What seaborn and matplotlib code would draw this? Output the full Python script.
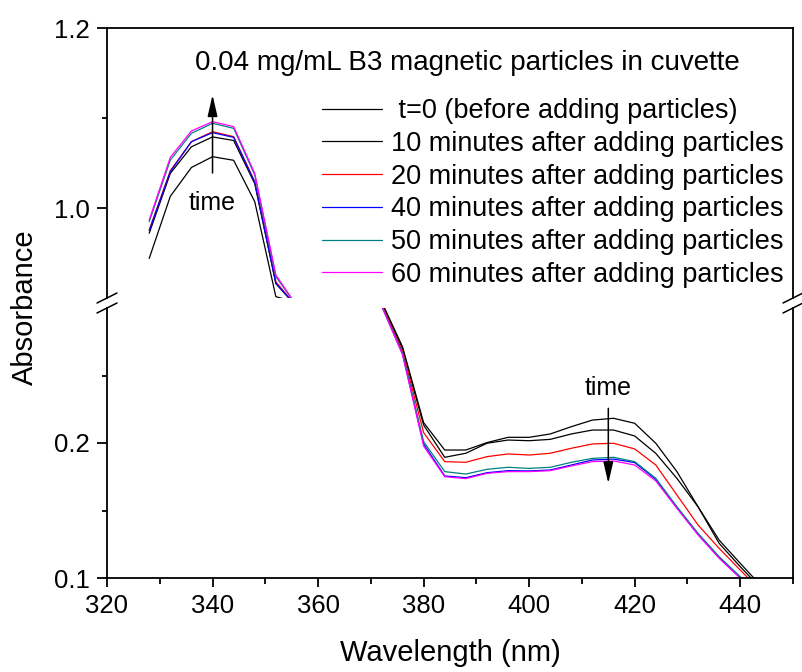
import numpy as np
import pandas as pd
import matplotlib
matplotlib.use("Agg")
import matplotlib.pyplot as plt
import matplotlib.ticker as mticker
from matplotlib.lines import Line2D
import seaborn as sns

# ---------------- data ----------------
wavelength = [328, 332, 336, 340, 344, 348, 352, 356, 360, 364, 368, 372, 376, 380,
              384, 388, 392, 396, 400, 404, 408, 412, 416, 420, 424, 428, 432, 436,
              440, 444]

abs_t0 = [0.944, 1.013, 1.045, 1.057, 1.053, 1.007, 0.9015, 0.895, 0.78, 0.62, 0.45,
          0.305, 0.2713, 0.2151, 0.1948, 0.1948, 0.2003, 0.2042, 0.2042, 0.2067,
          0.2121, 0.2170, 0.2183, 0.2146, 0.1998, 0.1788, 0.1528, 0.1281, 0.1109, 0.094]
abs_10 = [0.972, 1.0385, 1.068, 1.079, 1.075, 1.027, 0.916, 0.890, 0.78, 0.62, 0.45,
          0.304, 0.2700, 0.2133, 0.1894, 0.1924, 0.1998, 0.2022, 0.2017, 0.2027,
          0.2067, 0.2096, 0.2096, 0.2052, 0.1923, 0.1738, 0.1528, 0.1257, 0.1084, 0.092]
abs_20 = [0.9756, 1.0415, 1.0737, 1.0848, 1.0793, 1.0293, 0.918, 0.890, 0.78, 0.62, 0.45,
          0.303, 0.2680, 0.2077, 0.1862, 0.1857, 0.1899, 0.1919, 0.1911, 0.1924,
          0.1961, 0.1993, 0.1998, 0.1956, 0.1837, 0.1615, 0.1393, 0.1220, 0.1059, 0.090]
abs_40 = [0.9748, 1.0404, 1.0737, 1.0837, 1.0785, 1.0285, 0.9163, 0.890, 0.78, 0.62, 0.45,
          0.302, 0.2660, 0.1993, 0.1756, 0.1743, 0.1780, 0.1795, 0.1793, 0.1800,
          0.1837, 0.1874, 0.1881, 0.1855, 0.1731, 0.1522, 0.1325, 0.1152, 0.1003, 0.085]
abs_50 = [0.9848, 1.0533, 1.0830, 1.0941, 1.0885, 1.0367, 0.9237, 0.891, 0.78, 0.62, 0.45,
          0.302, 0.2665, 0.2010, 0.1788, 0.1770, 0.1805, 0.1820, 0.1812, 0.1820,
          0.1857, 0.1886, 0.1894, 0.1862, 0.1738, 0.1528, 0.1331, 0.1158, 0.1010, 0.086]
abs_60 = [0.9867, 1.0563, 1.0856, 1.0959, 1.0904, 1.0385, 0.9256, 0.891, 0.78, 0.62, 0.45,
          0.302, 0.2655, 0.1978, 0.1750, 0.1736, 0.1775, 0.1788, 0.1788, 0.1795,
          0.1830, 0.1862, 0.1867, 0.1837, 0.1719, 0.1516, 0.1319, 0.1146, 0.0998, 0.085]

series_labels = [" t=0 (before adding particles)",
                 "10 minutes after adding particles",
                 "20 minutes after adding particles",
                 "40 minutes after adding particles",
                 "50 minutes after adding particles",
                 "60 minutes after adding particles"]
series_values = [abs_t0, abs_10, abs_20, abs_40, abs_50, abs_60]
series_colors = ["#000000", "#000000", "#FF0000", "#0000FF", "#008080", "#FF00FF"]

title_text = "0.04 mg/mL B3 magnetic particles in cuvette"
x_major = [320, 340, 360, 380, 400, 420, 440]
x_minor = [330, 350, 370, 390, 410, 430, 450]

df = pd.concat([pd.DataFrame({"wl": wavelength, "abs": v, "series": lab})
                for lab, v in zip(series_labels, series_values)], ignore_index=True)
palette = dict(zip(series_labels, series_colors))

# ---------------- figure ----------------
sns.set_style("ticks")
plt.rcParams["font.family"] = ["Liberation Sans", "DejaVu Sans"]
plt.rcParams["text.color"] = "black"
plt.rcParams["axes.labelcolor"] = "black"
plt.rcParams["xtick.color"] = "black"
plt.rcParams["ytick.color"] = "black"

W, H = 803, 672
fig = plt.figure(figsize=(W / 100, H / 100), dpi=100)


def rect(l, t, r, b):
    return [l / W, 1 - b / H, (r - l) / W, (b - t) / H]


ax_top = fig.add_axes(rect(107, 28, 793, 298))
ax_bot = fig.add_axes(rect(107, 308, 793, 578))

for ax in (ax_top, ax_bot):
    sns.lineplot(data=df, x="wl", y="abs", hue="series", hue_order=series_labels,
                 palette=palette, estimator=None, sort=False, linewidth=0.9,
                 ax=ax, legend=False)
    ax.set_xlim(320, 450)
    ax.set_xlabel("")
    ax.set_ylabel("")
    for s in ax.spines.values():
        s.set_linewidth(1.3)
        s.set_color("black")
    ax.set_facecolor("white")

ax_top.set_ylim(0.9, 1.2)
ax_bot.set_ylim(0.1, 0.3)

ax_top.spines["bottom"].set_visible(False)
ax_bot.spines["top"].set_visible(False)

ax_top.tick_params(axis="x", which="both", bottom=False, top=False, labelbottom=False)
ax_top.set_yticks([1.0, 1.2])
ax_top.set_yticks([1.1], minor=True)
ax_bot.set_yticks([0.1, 0.2])
ax_bot.set_yticks([0.15, 0.25], minor=True)
ax_bot.set_xticks(x_major)
ax_bot.set_xticks(x_minor, minor=True)
for ax in (ax_top, ax_bot):
    ax.yaxis.set_major_formatter(mticker.FormatStrFormatter("%.1f"))
    ax.tick_params(axis="y", which="major", direction="out", length=7.2, width=1.3,
                   pad=5, labelsize=18.5, right=False, colors="black")
    ax.tick_params(axis="y", which="minor", direction="out", length=3.8, width=1.3,
                   right=False, colors="black")
ax_bot.tick_params(axis="x", which="major", direction="out", length=6.5, width=1.3,
                   pad=5, labelsize=18.5, top=False, colors="black")
ax_bot.tick_params(axis="x", which="minor", direction="out", length=4.2, width=1.3,
                   top=False, colors="black")

# time arrows
arrow_kw = dict(arrowstyle="-|>,head_length=0.65,head_width=0.15", color="black",
                lw=1.1, mutation_scale=20, shrinkA=0, shrinkB=0)
ax_top.annotate("", xy=(340, 1.1256), xytext=(340, 1.0389), arrowprops=arrow_kw)
ax_top.text(340, 1.0056, "time", ha="center", va="center", fontsize=18, color="black")
ax_bot.annotate("", xy=(415, 0.1701), xytext=(415, 0.2257), arrowprops=arrow_kw)
ax_bot.text(415, 0.2405, "time", ha="center", va="center", fontsize=18, color="black")

# legend
handles = ax_top.get_lines()[:6]
leg = ax_top.legend(handles, series_labels, loc="upper left",
                    bbox_to_anchor=(322 / W, 1 - 98 / H), bbox_transform=fig.transFigure,
                    frameon=False, fontsize=19.5, handlelength=2.21, handletextpad=0.33,
                    labelspacing=0.25, borderpad=0, borderaxespad=0)
for t in leg.get_texts():
    t.set_color("black")

# title / labels
fig.text(195 / W, 1 - 70 / H, title_text, fontsize=20, va="baseline", ha="left",
         color="black")
fig.text(450 / W, 1 - 653 / H, "Wavelength (nm)", fontsize=21, ha="center",
         va="center", color="black")
fig.text(25 / W, 1 - 307 / H, "Absorbance", fontsize=21, rotation=90,
         ha="center", va="center", color="black")

# axis break marks
for xc in (107, 793):
    for yc in (298, 308):
        fig.add_artist(Line2D([(xc - 10) / W, (xc + 10) / W],
                              [1 - (yc + 5) / H, 1 - (yc - 5) / H],
                              transform=fig.transFigure, color="black", lw=1.1))

fig.savefig("out.png", dpi=100, facecolor="white")
